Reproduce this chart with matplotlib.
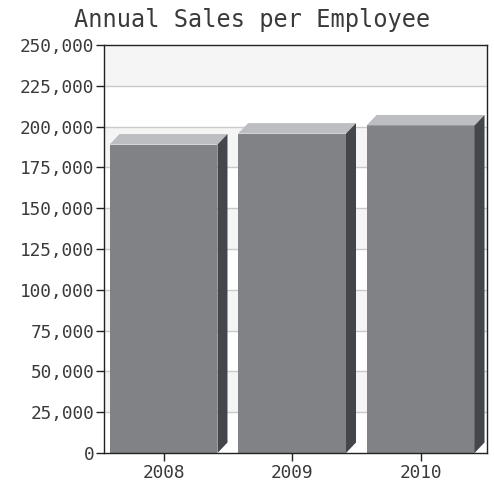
import matplotlib
matplotlib.use('Agg')
import matplotlib.pyplot as plt
import numpy as np

# data
years = ['2008', '2009', '2010']
sales = [189000, 195700, 200700]
y_ticks = [0, 25000, 50000, 75000, 100000, 125000, 150000, 175000, 200000, 225000, 250000]

front_col = '#808286'
top_col = '#bcbec2'
side_col = '#43464a'
band_col = '#f5f5f5'
grid_col = '#cacaca'
text_col = '#3a3a3a'

plt.rcParams['font.family'] = ['DejaVu Sans Mono']

fig = plt.figure(figsize=(4.94, 4.88), dpi=100)
ax = fig.add_axes([104 / 494, 1 - 453 / 488, 383 / 494, 408 / 488])

ax.set_xlim(-0.463, 2.517)
ax.set_ylim(0, 250000)

# alternating background bands + grid lines
for i in range(len(y_ticks) - 1):
    if i % 2 == 1:
        ax.axhspan(y_ticks[i], y_ticks[i + 1], color=band_col, zorder=0, lw=0)
for t in y_ticks[1:-1]:
    ax.axhline(t, color=grid_col, lw=1, zorder=1)

# 3d-looking bars
width = 0.84
dx = 10 / 128.5
dy = 10.5 * 250000 / 408
x = np.arange(len(years))
ax.bar(x, sales, width=width, color=front_col, zorder=3, lw=0)
for xi, v in zip(x, sales):
    x0 = xi - width / 2
    x1 = xi + width / 2
    # top face
    ax.fill([x0, x1, x1 + dx, x0 + dx], [v, v, v + dy, v + dy],
            color=top_col, zorder=3, lw=0)
    # side face
    ax.fill([x1, x1 + dx, x1 + dx, x1], [0, dy, v + dy, v],
            color=side_col, zorder=3, lw=0)

ax.set_yticks(y_ticks)
ax.set_yticklabels(['{:,}'.format(t) for t in y_ticks])
ax.set_xticks(x)
ax.set_xticklabels(years)
ax.tick_params(axis='both', labelsize=12.8, colors='#222222', labelcolor=text_col,
               length=6, width=1)
ax.tick_params(axis='y', pad=1)
ax.tick_params(axis='x', pad=2)

for s in ax.spines.values():
    s.set_color('#222222')
    s.set_linewidth(1)
    s.set_zorder(5)

fig.text(252 / 494, 1 - 27 / 488, 'Annual Sales per Employee', fontsize=17,
         ha='center', va='baseline', color=text_col)

fig.savefig('out.png', dpi=100)
